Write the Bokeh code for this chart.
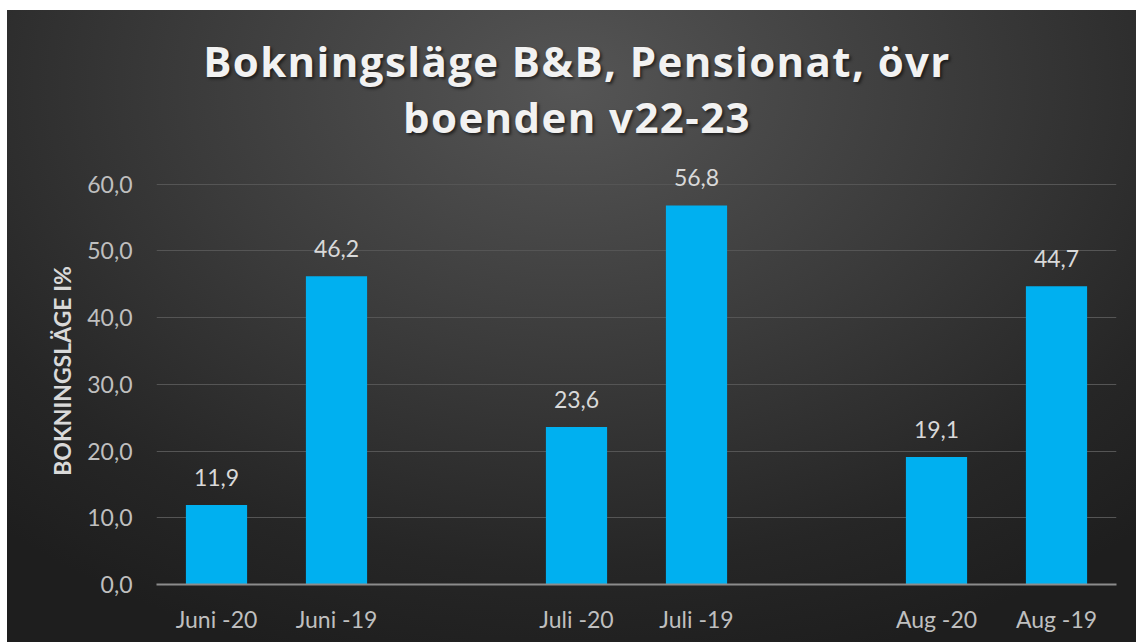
from bokeh.plotting import figure
from bokeh.layouts import column
from bokeh.models import FactorRange, CustomJSTickFormatter, FixedTicker, Div
from bokeh.core.properties import value
from bokeh.embed import file_html
from bokeh.resources import INLINE
import html

# ---- data ----
factors = ["Juni -20", "Juni -19", " ", "Juli -20", "Juli -19", "  ", "Aug -20", "Aug -19"]
categories = ["Juni -20", "Juni -19", "Juli -20", "Juli -19", "Aug -20", "Aug -19"]
values = [11.9, 46.2, 23.6, 56.8, 19.1, 44.7]
labels = [f"{v:.1f}".replace(".", ",") for v in values]
yticks = [0, 10, 20, 30, 40, 50, 60]
title_line1 = "Bokningsläge B&B, Pensionat, övr"
title_line2 = "boenden v22-23"
ylabel = "BOKNINGSLÄGE I%"

FONT = "Lato"
W = 1136

title_html = (
    '<div style="width:%dpx; box-sizing:border-box; padding-left:18px; padding-top:33px; '
    'text-align:center; font-family:\'Open Sans\'; font-weight:bold; font-size:42px; '
    'line-height:56px; letter-spacing:1.4px; color:#f2f2f2; '
    'text-shadow:2px 2px 3px rgba(0,0,0,0.55);">%s<br>%s</div>'
    % (W, html.escape(title_line1), html.escape(title_line2))
)
div = Div(text=title_html, width=W, height=150, margin=0)

p = figure(
    x_range=FactorRange(*factors, range_padding=0, factor_padding=0),
    y_range=(0, 64),
    width=W, height=492,
    output_backend="svg", toolbar_location=None,
    min_border_left=156, min_border_right=20, min_border_top=7, min_border_bottom=58,
)
p.margin = 0
p.background_fill_color = None
p.border_fill_color = None
p.outline_line_color = None

p.vbar(x=categories, top=values, width=0.51, color="#00b0f0", line_color=None)
p.text(x=categories, y=values, text=labels, y_offset=-28, text_align="center",
       text_baseline="middle", text_color="#d9d9d9", text_font=value(FONT), text_font_size="23px")

p.yaxis.ticker = FixedTicker(ticks=yticks)
p.yaxis.formatter = CustomJSTickFormatter(code="return tick.toFixed(1).replace('.', ',');")
p.yaxis.axis_line_color = None
p.yaxis.major_tick_line_color = None
p.yaxis.minor_tick_line_color = None
p.yaxis.major_label_text_color = "#bfbfbf"
p.yaxis.major_label_text_font = FONT
p.yaxis.major_label_text_font_size = "23px"
p.yaxis.major_label_standoff = 18
p.yaxis.axis_label = ylabel
p.yaxis.axis_label_text_font = FONT
p.yaxis.axis_label_text_font_style = "bold"
p.yaxis.axis_label_text_font_size = "23px"
p.yaxis.axis_label_text_color = "#d9d9d9"
p.yaxis.axis_label_standoff = 8

p.xaxis.axis_line_color = "#8c8c8c"
p.xaxis.axis_line_width = 2
p.xaxis.major_tick_line_color = None
p.xaxis.minor_tick_line_color = None
p.xaxis.major_label_text_color = "#bfbfbf"
p.xaxis.major_label_text_font = FONT
p.xaxis.major_label_text_font_size = "23px"
p.xaxis.major_label_standoff = 14

p.xgrid.grid_line_color = None
p.ygrid.ticker = FixedTicker(ticks=yticks)
p.ygrid.grid_line_color = "#555555"
p.ygrid.grid_line_width = 1

layout = column(div, p, spacing=0, margin=0)
layout.styles = {
    "background-color": "white",
    "background-image": "radial-gradient(ellipse 75% 95% at 50% 12%, #555555 0%, #3b3b3b 45%, #262626 80%, #1e1e1e 100%)",
    "background-position": "7px 10px",
    "background-size": "1129px 632px",
    "background-repeat": "no-repeat",
}

open("out.html", "w").write(file_html(layout, INLINE))
